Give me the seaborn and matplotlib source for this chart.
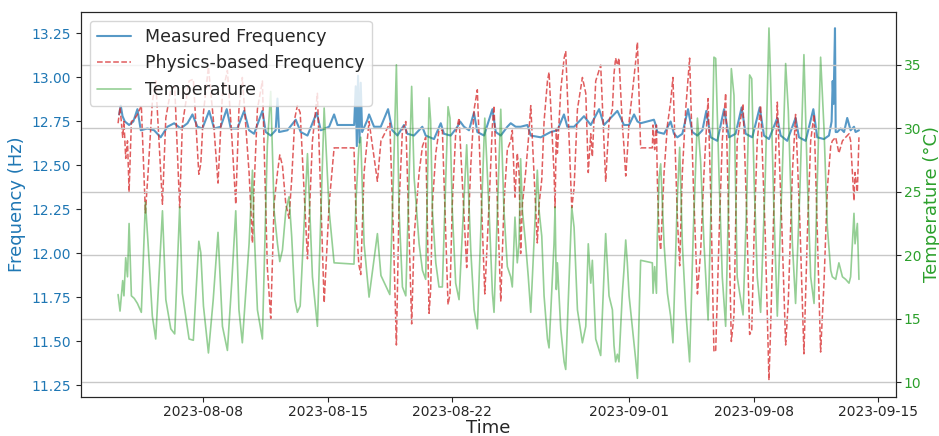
import numpy as np
import pandas as pd
import matplotlib
matplotlib.use("Agg")
import matplotlib.pyplot as plt
import matplotlib.dates as mdates
import seaborn as sns

# ---------------- data (days since 2023-08-01 00:00) ----------------
START = "2023-08-01"

temp_days = [
    2.19, 2.30, 2.45, 2.52, 2.62, 2.72, 2.81, 2.94, 3.10, 3.28, 3.50, 3.73, 3.88, 4.12, 4.31,
    4.69, 4.88, 5.16, 5.38, 5.66, 5.81, 6.19, 6.43, 6.74, 6.85, 7.00, 7.28, 7.55, 7.82, 8.07,
    8.35, 8.60, 8.82, 9.00, 9.19, 9.57, 9.76, 9.85, 10.04, 10.32, 10.60, 10.79, 10.98, 11.17, 11.30,
    11.45, 11.64, 11.82, 11.97, 12.15, 12.29, 12.45, 12.86, 13.14, 13.42, 13.80, 14.08, 14.36, 15.48, 15.60,
    15.75, 15.86, 16.05, 16.33, 16.80, 17.00, 17.50, 17.70, 17.87, 18.02, 18.21, 18.40, 18.73, 18.87, 19.15,
    19.34, 19.52, 19.71, 19.80, 19.90, 20.09, 20.27, 20.46, 20.78, 20.89, 21.02, 21.21, 21.40, 21.83, 22.06,
    22.25, 22.43, 22.85, 23.09, 23.28, 23.37, 23.75, 23.93, 24.12, 24.31, 24.40, 24.55, 24.68, 24.78, 24.87,
    24.97, 25.15, 25.30, 25.44, 25.81, 25.91, 26.06, 26.19, 26.38, 26.47, 26.75, 26.81, 26.88, 26.94, 27.13,
    27.32, 27.41, 27.75, 27.88, 28.07, 28.35, 28.54, 28.68, 28.82, 28.91, 29.10, 29.38, 29.66, 29.85, 30.04,
    30.13, 30.22, 30.32, 30.41, 30.60, 30.69, 30.79, 30.88, 30.98, 31.16, 31.35, 31.45, 31.63, 32.29, 32.33,
    32.42, 32.52, 32.57, 32.67, 32.76, 32.95, 33.14, 33.32, 33.45, 33.70, 33.83, 33.98, 34.17, 34.39, 34.60,
    34.83, 35.01, 35.20, 35.43, 35.60, 35.76, 35.86, 36.05, 36.23, 36.42, 36.58, 36.74, 36.89, 37.07, 37.40,
    37.60, 37.77, 37.89, 38.02, 38.20, 38.39, 38.65, 38.86, 38.95, 39.14, 39.33, 39.60, 39.80, 39.95, 40.18,
    40.36, 40.60, 40.83, 41.02, 41.21, 41.40, 41.77, 41.96, 42.15, 42.34, 42.43, 42.62, 42.80, 43.00, 43.18,
    43.37, 43.46, 43.65, 43.71, 43.84, 43.93,
]

temperature = [
    16.9, 15.6, 18.0, 16.8, 19.8, 18.3, 22.5, 16.8, 16.6, 16.2, 15.5, 24.2, 20.9, 15.2, 13.4,
    23.5, 16.5, 14.2, 13.8, 23.8, 17.0, 13.4, 13.3, 21.1, 20.2, 16.0, 12.3, 16.5, 21.8, 14.4,
    12.5, 18.0, 23.5, 15.7, 13.1, 20.9, 26.7, 22.2, 15.7, 13.4, 28.7, 32.9, 23.5, 20.9, 19.5,
    20.4, 23.5, 24.6, 21.5, 16.5, 15.5, 16.0, 28.0, 18.3, 14.4, 31.6, 23.5, 19.4, 19.3, 24.5,
    28.4, 29.3, 20.9, 16.7, 21.7, 18.4, 16.9, 26.0, 35.0, 23.5, 17.5, 16.8, 33.3, 26.1, 20.9,
    18.8, 18.1, 32.4, 30.6, 23.5, 19.4, 17.5, 17.5, 31.7, 30.8, 23.5, 17.8, 16.5, 28.7, 20.4,
    15.7, 14.2, 30.8, 23.5, 17.0, 15.5, 31.5, 23.5, 19.1, 18.3, 17.5, 23.0, 19.4, 20.9, 27.6,
    23.5, 20.9, 18.3, 15.5, 26.7, 23.5, 21.5, 16.8, 13.4, 12.7, 20.9, 23.8, 17.3, 19.4, 14.2,
    11.6, 11.0, 23.8, 22.2, 15.7, 13.1, 14.4, 20.9, 17.8, 19.6, 13.4, 12.1, 21.7, 16.8, 15.7,
    12.9, 11.6, 12.2, 11.6, 17.0, 18.8, 21.2, 19.4, 16.8, 14.4, 11.8, 10.3, 19.6, 19.4, 17.0,
    19.1, 17.0, 21.5, 26.1, 27.2, 20.9, 17.0, 15.2, 13.1, 24.6, 28.5, 20.9, 15.7, 11.6, 22.0,
    30.8, 27.4, 20.9, 14.9, 24.0, 35.6, 35.5, 26.1, 18.3, 14.4, 24.0, 34.7, 32.6, 18.3, 15.3,
    24.0, 34.2, 33.9, 26.1, 18.3, 15.5, 26.0, 37.9, 33.9, 23.5, 15.2, 26.0, 35.1, 31.4, 20.9,
    16.2, 25.0, 35.8, 26.1, 18.3, 16.2, 35.6, 30.0, 22.2, 18.8, 18.3, 18.1, 19.4, 18.3, 18.1,
    17.8, 18.3, 23.3, 20.9, 22.5, 18.1,
]

physics_freq = [
    12.74, 12.83, 12.66, 12.75, 12.54, 12.64, 12.35, 12.75, 12.76, 12.79, 12.84, 12.23, 12.46, 12.86, 12.98,
    12.28, 12.77, 12.93, 12.95, 12.26, 12.73, 12.98, 12.99, 12.45, 12.51, 12.80, 13.06, 12.77, 12.40, 12.91,
    13.04, 12.66, 12.28, 12.82, 13.00, 12.46, 12.06, 12.37, 12.82, 12.98, 11.92, 11.63, 12.28, 12.46, 12.56,
    12.50, 12.28, 12.20, 12.42, 12.77, 12.84, 12.80, 11.97, 12.64, 12.91, 11.72, 12.28, 12.60, 12.60, 12.21,
    11.94, 11.88, 12.46, 12.75, 12.41, 12.64, 12.74, 12.11, 11.48, 12.28, 12.70, 12.75, 11.60, 12.10, 12.46,
    12.61, 12.66, 11.66, 11.79, 12.28, 12.57, 12.70, 12.70, 11.71, 11.77, 12.28, 12.68, 12.77, 11.92, 12.50,
    12.82, 12.93, 11.77, 12.28, 12.73, 12.84, 11.73, 12.28, 12.59, 12.64, 12.70, 12.32, 12.57, 12.46, 12.00,
    12.28, 12.46, 12.64, 12.84, 12.06, 12.28, 12.42, 12.75, 12.98, 13.03, 12.46, 12.26, 12.71, 12.57, 12.93,
    13.11, 13.15, 12.26, 12.37, 12.82, 13.00, 12.91, 12.46, 12.68, 12.55, 12.98, 13.07, 12.41, 12.75, 12.82,
    13.02, 13.11, 13.07, 13.11, 12.73, 12.61, 12.44, 12.57, 12.75, 12.91, 13.09, 13.20, 12.60, 12.60, 12.73,
    12.59, 12.73, 12.42, 12.10, 12.02, 12.46, 12.73, 12.86, 13.00, 12.20, 11.93, 12.46, 12.82, 13.11, 12.39,
    11.77, 12.01, 12.46, 12.88, 12.25, 11.44, 11.45, 12.10, 12.64, 12.91, 12.25, 11.50, 11.65, 12.64, 12.85,
    12.25, 11.54, 11.56, 12.10, 12.64, 12.84, 12.11, 11.28, 11.56, 12.28, 12.86, 12.11, 11.48, 11.73, 12.46,
    12.79, 12.18, 11.43, 12.10, 12.64, 12.79, 11.44, 11.83, 12.37, 12.61, 12.64, 12.66, 12.57, 12.64, 12.66,
    12.68, 12.64, 12.30, 12.46, 12.35, 12.66,
]

measured_days = [
    2.25, 2.34, 2.44, 2.57, 2.81, 3.05, 3.28, 3.47, 3.84, 4.22, 4.59, 4.97, 5.35, 5.72, 6.10,
    6.38, 6.66, 6.94, 7.32, 7.60, 7.97, 8.31, 8.54, 8.91, 9.29, 9.57, 9.85, 10.32, 10.51, 10.79,
    11.07, 11.17, 11.26, 11.73, 12.20, 12.48, 12.86, 13.38, 13.61, 14.08, 14.36, 14.55, 15.49, 15.58, 15.64,
    15.71, 15.79, 15.86, 15.94, 16.24, 16.33, 16.61, 16.99, 17.40, 17.64, 17.93, 18.30, 18.49, 18.86, 19.33,
    19.52, 19.99, 20.37, 20.55, 20.93, 21.31, 21.46, 21.68, 21.96, 22.24, 22.43, 22.81, 23.28, 23.47, 23.75,
    24.12, 24.31, 24.59, 24.87, 25.25, 25.44, 26.00, 26.56, 26.94, 27.31, 27.50, 27.88, 28.44, 28.82, 29.29,
    29.57, 29.94, 30.32, 30.51, 30.69, 30.98, 31.26, 31.45, 31.63, 32.38, 32.48, 32.57, 32.95, 33.32, 33.51,
    33.70, 33.98, 34.30, 34.54, 34.83, 35.11, 35.33, 35.58, 35.95, 36.33, 36.61, 36.98, 37.32, 37.55, 37.92,
    38.34, 38.58, 38.86, 39.33, 39.52, 39.89, 40.36, 40.55, 40.93, 41.36, 41.58, 41.96, 42.24, 42.39, 42.45,
    42.50, 42.58, 42.62, 42.71, 42.90, 43.09, 43.27, 43.46, 43.65, 43.74, 43.93,
]

measured_freq = [
    12.79, 12.84, 12.78, 12.75, 12.73, 12.75, 12.82, 12.70, 12.71, 12.70, 12.66, 12.72, 12.74, 12.71, 12.74,
    12.79, 12.72, 12.71, 12.81, 12.71, 12.72, 12.82, 12.71, 12.71, 12.81, 12.70, 12.68, 12.81, 12.69, 12.67,
    12.70, 12.88, 12.69, 12.70, 12.76, 12.69, 12.67, 12.80, 12.70, 12.72, 12.79, 12.73, 12.73, 12.95, 12.61,
    13.01, 12.63, 12.97, 12.69, 12.76, 12.79, 12.72, 12.72, 12.82, 12.70, 12.67, 12.73, 12.68, 12.67, 12.72,
    12.67, 12.65, 12.74, 12.68, 12.67, 12.72, 12.75, 12.72, 12.70, 12.80, 12.69, 12.67, 12.82, 12.69, 12.67,
    12.72, 12.74, 12.72, 12.72, 12.73, 12.67, 12.66, 12.69, 12.70, 12.79, 12.72, 12.72, 12.78, 12.73, 12.82,
    12.73, 12.77, 12.81, 12.77, 12.73, 12.73, 12.79, 12.75, 12.74, 12.76, 12.73, 12.69, 12.68, 12.75, 12.68,
    12.66, 12.68, 12.82, 12.69, 12.67, 12.70, 12.81, 12.66, 12.64, 12.82, 12.66, 12.68, 12.83, 12.68, 12.66,
    12.83, 12.67, 12.65, 12.77, 12.67, 12.64, 12.77, 12.66, 12.64, 12.82, 12.66, 12.65, 12.67, 12.75, 12.98,
    12.85, 13.28, 12.69, 12.69, 12.71, 12.69, 12.77, 12.70, 12.72, 12.69, 12.70,
]

labels = ["Measured Frequency", "Physics-based Frequency", "Temperature"]

# ---------------- figure ----------------
sns.set_style("ticks")
plt.rcParams["font.family"] = ["DejaVu Sans"]

start = pd.Timestamp(START)
t_temp = start + pd.to_timedelta(temp_days, unit="D")
t_meas = start + pd.to_timedelta(measured_days, unit="D")

df_meas = pd.DataFrame({"time": t_meas, "freq": measured_freq})
df_temp = pd.DataFrame({"time": t_temp, "phys": physics_freq, "temp": temperature})

fig, ax1 = plt.subplots(figsize=(9.39, 4.36), dpi=100)
fig.subplots_adjust(left=0.0863, right=0.9542, top=0.9725, bottom=0.090)

sns.lineplot(data=df_meas, x="time", y="freq", ax=ax1, color="tab:blue", alpha=0.75,
             lw=1.5, label=labels[0], estimator=None, sort=False)
sns.lineplot(data=df_temp, x="time", y="phys", ax=ax1, color="tab:red", alpha=0.75,
             lw=1.1, linestyle="--", label=labels[1], estimator=None, sort=False)

ax2 = ax1.twinx()
sns.lineplot(data=df_temp, x="time", y="temp", ax=ax2, color="tab:green", alpha=0.5,
             lw=1.2, label=labels[2], estimator=None, sort=False)

ax1.set_ylim(11.186, 13.372)
ax2.set_ylim(8.85, 39.16)
ax1.set_yticks(np.arange(11.25, 13.26, 0.25))
ax2.set_yticks([10, 15, 20, 25, 30, 35])

ax1.xaxis.set_major_locator(mdates.DayLocator(bymonthday=[1, 8, 15, 22]))
ax1.xaxis.set_major_formatter(mdates.DateFormatter("%Y-%m-%d"))

ax1.set_xlabel("Time", fontsize=13, labelpad=0)
ax1.set_ylabel("Frequency (Hz)", color="tab:blue", fontsize=13, labelpad=4)
ax2.set_ylabel("Temperature (°C)", color="tab:green", fontsize=13, labelpad=1)
ax1.tick_params(axis="y", labelcolor="tab:blue", labelsize=10)
ax1.tick_params(axis="x", labelsize=10, pad=2.5)
ax2.tick_params(axis="y", labelcolor="tab:green", labelsize=10, pad=2)

ax1.grid(False)
ax2.grid(True, axis="y", color="#c8c8c8", lw=1.0)
ax2.grid(False, axis="x")

h1, l1 = ax1.get_legend_handles_labels()
h2, l2 = ax2.get_legend_handles_labels()
if ax1.get_legend() is not None:
    ax1.get_legend().remove()
ax2.legend(h1 + h2, l1 + l2, loc="upper left", fontsize=12.5, framealpha=0.8)

fig.savefig("out.png", dpi=100)
